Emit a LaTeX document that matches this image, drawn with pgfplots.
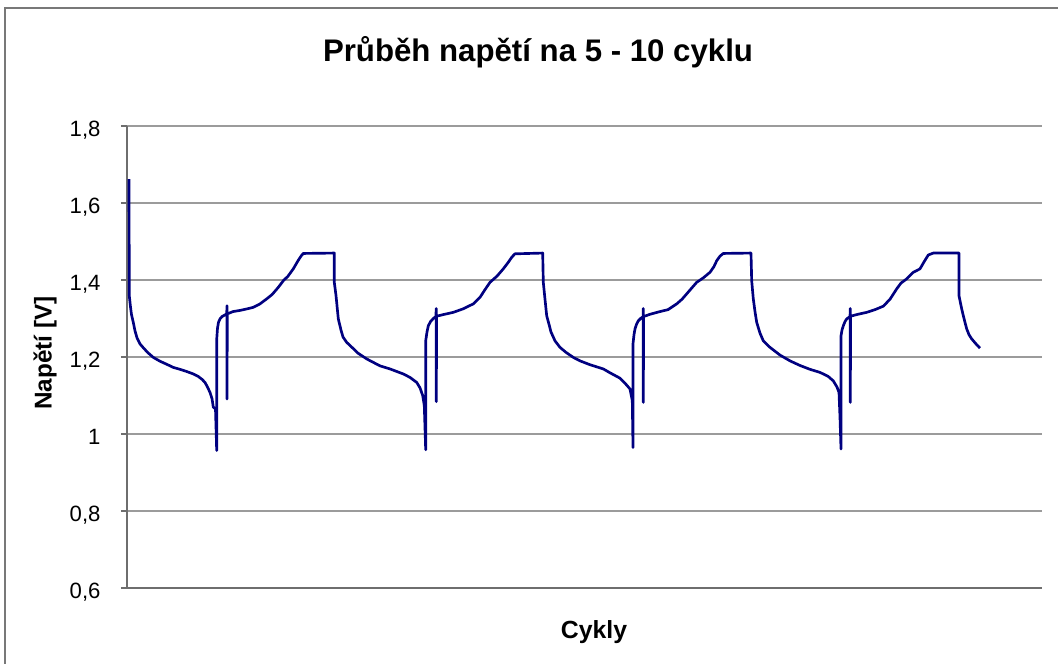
\documentclass[border=0pt]{standalone}
\usepackage{fontspec}
\setmainfont{Liberation Sans}
\usepackage{pgfplots}
\pgfplotsset{compat=1.18}
\definecolor{serie}{RGB}{0,0,128}
\definecolor{gridc}{RGB}{155,155,155}
\definecolor{axisc}{RGB}{110,110,110}
\definecolor{framec}{RGB}{120,120,120}
\begin{document}
\begin{tikzpicture}
\useasboundingbox (-47.625pt,-28.125pt) rectangle (349.125pt,220.5pt);
\clip (-47.625pt,-28.125pt) rectangle (349.125pt,220.5pt);
\draw[framec, line width=0.75pt] (-45.6pt,-40pt) -- (-45.6pt,217.4pt) -- (360pt,217.4pt);
\begin{axis}[
  at={(0pt,0pt)}, anchor=south west,
  scale only axis,
  width=343.125pt, height=173.25pt,
  xmin=127, xmax=1042,
  ymin=0.6, ymax=1.8,
  axis lines*=left,
  axis line style={draw=axisc, line width=0.5pt},
  xtick=\empty,
  ytick={0.6,0.8,1.0,1.2,1.4,1.6,1.8},
  ymajorgrids,
  major grid style={draw=gridc, line width=0.45pt},
  tick align=outside,
  major tick length=2.25pt,
  ytick style={draw=axisc, line width=0.5pt},
  /pgf/number format/.cd, fixed, use comma, precision=1, assume math mode=true,
  /pgfplots/.cd,
  yticklabel style={font=\fontsize{8.3}{10}\selectfont, anchor=base east, inner sep=0pt, xshift=-7.5pt, yshift=-3.9pt},
  every axis title shift=0pt,
  title={\bfseries Průběh napětí na 5 - 10 cyklu},
  title style={font=\fontsize{11.7}{14}\selectfont, at={(axis description cs:0.4492,1.1407)}, anchor=base, inner sep=0pt},
  xlabel={\bfseries Cykly},
  xlabel style={font=\fontsize{9.3}{11}\selectfont, at={(axis description cs:0.5104,-0.1089)}, anchor=base, inner sep=0pt},
  ylabel={\bfseries Napětí [V]},
  ylabel style={font=\fontsize{9.1}{11}\selectfont, at={(axis description cs:-0.0896,0.5087)}, anchor=center, inner sep=0pt},
]
\addplot[serie, line width=1pt, line join=round] coordinates {
(129.0,1.662) (129.3,1.359) (130.5,1.330) (131.5,1.310) (133.3,1.290) (135,1.268) (137,1.250) (140,1.234) (144,1.222) (148,1.211)
(153.3,1.199) (160,1.189) (166,1.182) (173.3,1.173) (180,1.168) (186,1.163) (193.3,1.156) (198,1.150) (202,1.142) (205,1.134)
(207.5,1.122) (210,1.108) (212,1.092) (213.3,1.070) (215.5,1.065) (216.7,0.957) (216.7,1.245) (217.5,1.275) (218.5,1.290) (220,1.299)
(222,1.305) (226.7,1.312) (227,1.333) (227,1.091) (227.3,1.312) (233,1.318) (240,1.321) (247,1.325) (253.3,1.329) (260,1.338)
(266.7,1.351) (272,1.362) (278,1.380) (283.3,1.398) (288,1.410) (293.3,1.429) (298,1.450) (301,1.462) (303.3,1.469) (334.3,1.470)
(334.3,1.394) (336,1.360) (338.3,1.299) (341,1.270) (343,1.252) (346.7,1.238) (352,1.225) (358,1.210) (366.7,1.195) (380,1.177)
(390,1.169) (403.3,1.156) (410,1.147) (416.7,1.134) (420,1.120) (422.7,1.100) (424.3,1.074) (425.7,0.959) (425.7,1.242) (427,1.265)
(428.3,1.281) (430.5,1.292) (433.3,1.300) (435.8,1.305) (436.3,1.326) (436.3,1.084) (436.6,1.306) (443,1.310) (453.3,1.316) (463,1.325)
(473.3,1.338) (480,1.355) (485,1.375) (490,1.394) (497,1.410) (503.3,1.429) (508,1.445) (512,1.460) (515,1.468) (542.7,1.470)
(543.3,1.394) (545,1.350) (546.7,1.307) (549,1.285) (551,1.265) (555,1.242) (560,1.225) (566,1.212) (573.3,1.199) (580,1.190)
(590,1.180) (603.3,1.169) (610,1.159) (620,1.145) (625,1.132) (630,1.117) (632.3,1.087) (633,0.965) (633,1.234) (634,1.258)
(635,1.273) (636.5,1.285) (638.3,1.294) (641,1.301) (643.3,1.305) (643.3,1.326) (643.3,1.082) (643.6,1.305) (650,1.311) (660,1.318)
(668,1.323) (676.7,1.338) (682,1.350) (686.7,1.364) (692,1.380) (696.7,1.394) (703,1.405) (710,1.420) (714,1.435) (716.7,1.450)
(720,1.462) (723.3,1.469) (751,1.470) (751.7,1.398) (753.3,1.351) (755,1.318) (756.7,1.290) (760,1.262) (763.3,1.242) (770,1.225)
(780,1.205) (790,1.190) (800,1.178) (810,1.168) (820,1.160) (828,1.150) (833.3,1.138) (837,1.122) (839,1.108) (840,1.043)
(841,0.961) (841,1.255) (842,1.270) (843.3,1.281) (845,1.292) (846.7,1.299) (850,1.305) (850.3,1.326) (850.3,1.082) (850.6,1.306)
(858,1.311) (866.7,1.316) (875,1.323) (883.3,1.332) (890,1.350) (896.7,1.377) (901,1.392) (906.7,1.403) (913.3,1.420) (920,1.429)
(924,1.447) (928.3,1.465) (933.3,1.470) (959,1.470) (959,1.359) (961.7,1.325) (964,1.300) (966.7,1.273) (969,1.258) (971.7,1.247)
(976,1.234) (980,1.223)
};
\end{axis}
\end{tikzpicture}
\end{document}
